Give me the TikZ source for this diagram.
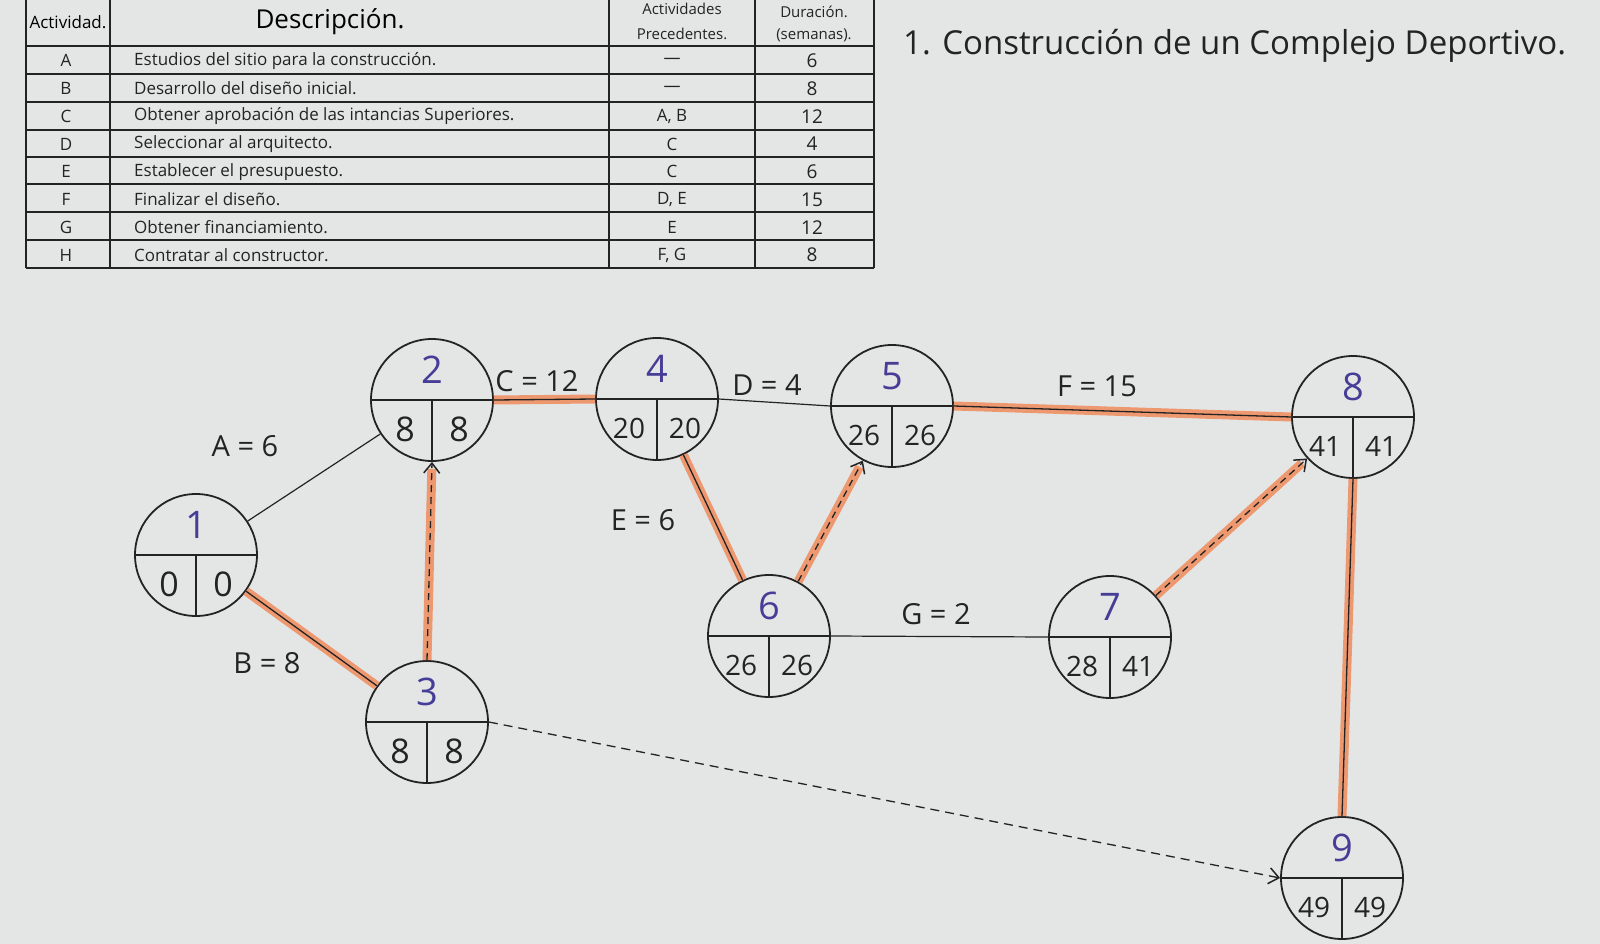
\documentclass[tikz,border=0pt]{standalone}
\usepackage{fontspec}
\setmainfont{Open Sans}
\usetikzlibrary{arrows.meta,calc}
\definecolor{paper}{RGB}{228,230,230}
\definecolor{critc}{RGB}{238,152,112}
\definecolor{ink}{RGB}{35,35,35}
\definecolor{evblue}{RGB}{70,62,150}
\newcommand{\fs}[1]{\fontsize{#1}{#1}\selectfont}
\newcommand{\eventnode}[6]{%
  \node[ev] (#1) at (#2,#3) {};
  \draw[line width=1.8pt, draw=ink] (#1.west) -- (#1.east);
  \draw[line width=1.8pt, draw=ink] (#1.center) -- (#1.south);
  \node[topnum] (#1-t) at ([yshift=30pt]#1.center) {#4};
  \ifnum#5<10
    \node[botnum, font=\fs{34}] (#1-e) at ([xshift=-27pt,yshift=-29pt]#1.center) {#5};
    \node[botnum, font=\fs{34}] (#1-l) at ([xshift=27pt,yshift=-29pt]#1.center) {#6};
  \else
    \node[botnum] (#1-e) at ([xshift=-28pt,yshift=-29pt]#1.center) {#5};
    \node[botnum] (#1-l) at ([xshift=28pt,yshift=-29pt]#1.center) {#6};
  \fi
}
\begin{document}
\begin{tikzpicture}[x=1pt,y=-1pt,
  ev/.style={circle, draw=ink, line width=1.8pt, minimum size=122pt, inner sep=0pt},
  topnum/.style={font=\fs{38}, text=evblue, inner sep=0pt},
  botnum/.style={font=\fs{28}, text=ink, inner sep=0pt},
  actline/.style={draw=ink, line width=1.2pt},
  critline/.style={draw=ink, line width=1.3pt, preaction={draw=critc, line width=9pt}},
  dummy/.style={draw=ink, line width=1.3pt, dash pattern=on 9pt off 6pt, -{Straight Barb[length=10pt,width=16pt,line width=1.5pt]}},
  critdummy/.style={dummy, dash pattern=on 7pt off 5pt, preaction={draw=critc, line width=9pt, solid, -, shorten >=7pt}},
  lab/.style={font=\fs{29}, text=ink, inner sep=0pt},
  tline/.style={draw=ink, line width=1.3pt},
  thead/.style={font=\fs{15}, text=ink, inner sep=0pt},
  tcell/.style={font=\fs{17}, text=ink, inner sep=0pt},
  tdesc/.style={font=\fs{17}, text=ink, inner sep=0pt, anchor=west}]
\fill[paper] (0,0) rectangle (1600,944);
\useasboundingbox (0,0) rectangle (1600,944);

% ---------- table ----------
\foreach \x in {26,110,609,755,874} \draw[tline] (\x,0) -- (\x,268);
\foreach \y in {46,74,102,130,157,184,212,240,268} \draw[tline] (26,\y) -- (874,\y);
\node[font=\fs{17}, inner sep=0pt] (h1) at (68,22) {Actividad.};
\node[font=\fs{26}, inner sep=0pt] (h2) at (330,22) {Descripción.};
\node[thead] (h3) at (682,9) {Actividades};
\node[thead] (h3b) at (682,34) {Precedentes.};
\node[thead] (h4) at (814,12) {Duración.};
\node[thead] (h4b) at (814,35) {(semanas).};
\foreach \l/\d/\p/\w [count=\i] in {
  A/{Estudios del sitio para la construcción.}/{—}/6,
  B/{Desarrollo del diseño inicial.}/{—}/8,
  C/{Obtener aprobación de las intancias Superiores.}/{A, B}/12,
  D/{Seleccionar al arquitecto.}/C/4,
  E/{Establecer el presupuesto.}/C/6,
  F/{Finalizar el diseño.}/{D, E}/15,
  G/{Obtener financiamiento.}/E/12,
  H/{Contratar al constructor.}/{F, G}/8}{
  \pgfmathsetmacro{\yy}{46+27.75*\i-13}
  \node[tcell] (ra\i) at (66,\yy) {\l};
  \node[tdesc] (rd\i) at (134,\yy) {\d};
  \node[tcell] (rp\i) at (672,\yy) {\p};
  \node[tcell, font=\fs{19}] (rw\i) at (812,\yy) {\w};
}
\node[anchor=west, font=\fs{33}, text=ink, inner sep=0pt] (title) at (903,46) {1. Construcción de un Complejo Deportivo.};

% ---------- events ----------
\eventnode{n1}{196}{555}{1}{0}{0}
\eventnode{n2}{432}{400}{2}{8}{8}
\eventnode{n3}{427}{722}{3}{8}{8}
\eventnode{n4}{657}{399}{4}{20}{20}
\eventnode{n5}{892}{406}{5}{26}{26}
\eventnode{n6}{769}{636}{6}{26}{26}
\eventnode{n7}{1110}{637}{7}{28}{41}
\eventnode{n8}{1353}{417}{8}{41}{41}
\eventnode{n9}{1342}{878}{9}{49}{49}

% ---------- activities ----------
\draw[actline] (n1) -- (n2);
\draw[critline] (n1) -- (n3);
\draw[critdummy] (n3.north) -- (n2.south);
\draw[critline] (n2.east) -- (n4.west);
\draw[actline] (n4.east) -- (n5.west);
\draw[critline] (n4) -- (n6);
\draw[critdummy] (n6) -- (n5);
\draw[critline] (n5.east) -- (n8.west);
\draw[actline] (n6.east) -- (n7.west);
\draw[critdummy] (n7) -- (n8);
\draw[critline] (n8.south) -- (n9.north);
\draw[dummy] (n3.east) -- (n9.west);

% ---------- labels ----------
\node[lab] (lA) at (245,446) {A = 6};
\node[lab] (lB) at (267,663) {B = 8};
\node[lab] (lC) at (537,381) {C = 12};
\node[lab] (lD) at (767,385) {D = 4};
\node[lab] (lE) at (643,520) {E = 6};
\node[lab] (lF) at (1097,386) {F = 15};
\node[lab] (lG) at (936,614) {G = 2};
\end{tikzpicture}
\end{document}
